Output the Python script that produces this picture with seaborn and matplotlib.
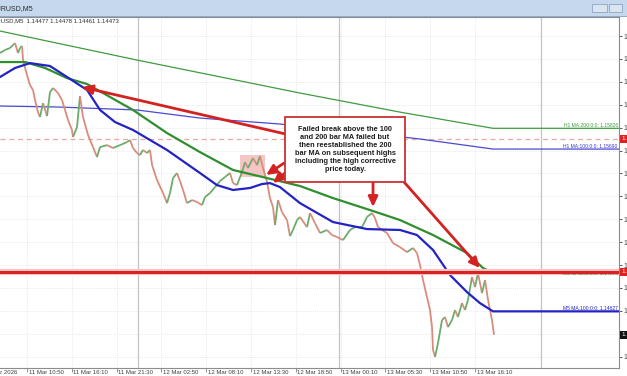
import matplotlib
matplotlib.use("Agg")
import matplotlib.pyplot as plt
import matplotlib.transforms as mtransforms
from matplotlib.collections import LineCollection
from matplotlib.patches import Rectangle
import seaborn as sns

sns.set_style("white")
plt.rcParams["font.family"] = ["Liberation Sans", "DejaVu Sans"]

# ---------------- data (x = hours since 11 Mar 2026 00:00, y = price) ----------------
price_time = [7.63, 8.23, 8.82, 9.18, 9.42, 9.77, 10.01, 10.25, 10.37, 10.84,
              11.20, 11.56, 11.80, 12.15, 12.39, 12.75, 13.23, 13.58, 13.94, 14.54,
              15.01, 15.37, 15.73, 16.20, 16.32, 16.80, 17.15, 17.51, 18.11, 18.70,
              19.18, 19.54, 20.37, 21.08, 21.92, 22.75, 23.11, 23.46, 23.94, 24.30,
              24.65, 25.13, 25.49, 25.73, 26.32, 27.04, 27.51, 27.87, 28.23, 28.70,
              29.06, 29.42, 29.89, 30.49, 31.08, 31.68, 32.04, 32.63, 33.23, 33.82,
              34.42, 35.01, 35.37, 35.84, 36.44, 36.80, 37.15, 37.75, 38.23, 38.58,
              38.94, 39.42, 39.77, 40.13, 40.37, 40.73, 41.20, 41.80, 42.15, 42.51,
              42.99, 43.34, 44.18, 44.54, 45.13, 45.73, 46.56, 47.15, 47.75, 48.46,
              49.30, 49.89, 50.73, 51.32, 51.92, 52.27, 52.63, 53.11, 53.70, 54.42,
              55.25, 56.08, 56.80, 57.27, 57.63, 57.99, 58.46, 58.82, 59.06, 59.18,
              59.42, 59.77, 60.25, 60.61, 60.96, 61.44, 61.80, 62.15, 62.63, 62.99,
              63.34, 63.82, 64.18, 64.53, 65.01, 65.37, 65.73, 66.20, 66.44]
price_close = [1.16319, 1.16339, 1.16352, 1.16371, 1.16384, 1.16319, 1.16352, 1.16365, 1.16273, 1.16175,
               1.16109, 1.16077, 1.16011, 1.15932, 1.15900, 1.15991, 1.15906, 1.16063, 1.16090, 1.16057,
               1.16011, 1.15946, 1.15880, 1.15815, 1.15769, 1.15834, 1.16037, 1.15900, 1.15782, 1.15703,
               1.15638, 1.15703, 1.15716, 1.15697, 1.15716, 1.15736, 1.15749, 1.15697, 1.15664, 1.15651,
               1.15684, 1.15664, 1.15684, 1.15585, 1.15487, 1.15402, 1.15336, 1.15402, 1.15500, 1.15533,
               1.15480, 1.15422, 1.15336, 1.15356, 1.15343, 1.15323, 1.15376, 1.15402, 1.15441, 1.15480,
               1.15507, 1.15533, 1.15467, 1.15454, 1.15539, 1.15605, 1.15566, 1.15631, 1.15585, 1.15644,
               1.15566, 1.15474, 1.15369, 1.15310, 1.15192, 1.15356, 1.15277, 1.15225, 1.15120, 1.15160,
               1.15225, 1.15245, 1.15179, 1.15271, 1.15205, 1.15140, 1.15160, 1.15127, 1.15114, 1.15094,
               1.15160, 1.15179, 1.15179, 1.15245, 1.15271, 1.15238, 1.15179, 1.15160, 1.15140, 1.15074,
               1.15048, 1.15015, 1.15042, 1.15009, 1.14930, 1.14832, 1.14721, 1.14636, 1.14524, 1.14374,
               1.14328, 1.14419, 1.14570, 1.14590, 1.14524, 1.14570, 1.14636, 1.14590, 1.14681, 1.14636,
               1.14701, 1.14852, 1.14786, 1.14878, 1.14747, 1.14832, 1.14701, 1.14570, 1.14473]

m5_ma200_time = [7.63, 10.61, 12.99, 15.61, 17.99, 20.73, 23.46, 27.51, 31.44, 35.37,
                 39.42, 43.34, 47.27, 52.04, 55.25, 59.18, 63.23, 65.13, 66.32, 81.32]
m5_ma200_val = [1.16260, 1.16260, 1.16221, 1.16155, 1.16116, 1.16031, 1.15946, 1.15795, 1.15670, 1.15553,
                1.15500, 1.15448, 1.15369, 1.15284, 1.15225, 1.15127, 1.15009, 1.14911, 1.14878, 1.14878]

m5_ma100_time = [7.63, 9.42, 11.20, 13.58, 15.61, 17.99, 19.54, 21.32, 23.46, 27.51, 31.44, 33.46,
                 35.37, 37.39, 38.82, 39.77, 40.96, 43.34, 47.27, 51.32, 55.25, 57.27, 59.18,
                 61.20, 63.23, 64.77, 66.32, 81.32]
m5_ma100_val = [1.16162, 1.16221, 1.16253, 1.16234, 1.16162, 1.16077, 1.15946, 1.15867, 1.15815, 1.15684,
                1.15533, 1.15454, 1.15422, 1.15435, 1.15461, 1.15467, 1.15441, 1.15336, 1.15212, 1.15166,
                1.15160, 1.15127, 1.15029, 1.14865, 1.14753, 1.14681, 1.14627, 1.14627]

h1_ma200_time = [7.63, 23.94, 43.34, 55.25, 66.32, 81.32]
h1_ma200_val = [1.16463, 1.16273, 1.16057, 1.15932, 1.15826, 1.15826]

h1_ma100_time = [7.63, 14.77, 23.94, 31.44, 40.96, 49.30, 57.63, 66.32, 81.32]
h1_ma100_val = [1.15972, 1.15965, 1.15946, 1.15893, 1.15854, 1.15808, 1.15756, 1.15690, 1.15690]

support_level = 1.14885
dashed_level = 1.15756
current_price = 1.14473
highlight_time = [36.20, 39.18]
highlight_price = [1.15507, 1.15651]

day_separators = [24, 48, 72]
date_tick_time = [5.5, 10.833, 16.167, 21.5, 26.833, 32.167, 37.5, 42.833, 48.167, 53.5, 58.833, 64.167]
date_tick_labels = ["11 Mar 2026", "11 Mar 10:50", "11 Mar 16:10", "11 Mar 21:30", "12 Mar 02:50",
                    "12 Mar 08:10", "12 Mar 13:30", "12 Mar 18:50", "13 Mar 00:10", "13 Mar 05:30",
                    "13 Mar 10:50", "13 Mar 16:10"]
price_ticks = [1.14330, 1.14480, 1.14630, 1.14780, 1.14930, 1.15080, 1.15230, 1.15380,
               1.15530, 1.15680, 1.15830, 1.15980, 1.16130, 1.16280, 1.16430]

note_text = ("Failed break above the 100\nand 200 bar MA failed but\nthen reestablished the 200\n"
             "bar MA on subsequent highs\nincluding the high corrective\nprice today.")
# arrows: (tail_time, tail_price, tip_time, tip_price)
arrow_list = [(42.15, 1.15782, 17.39, 1.16096),
              (41.44, 1.15598, 39.30, 1.15520),
              (41.68, 1.15539, 40.13, 1.15467),
              (52.04, 1.15474, 52.04, 1.15310),
              (55.73, 1.15474, 64.77, 1.14911)]

# ---------------- figure ----------------
W, H = 627, 376
fig = plt.figure(figsize=(W / 100, H / 100), dpi=100)
ax = fig.add_axes([0, 8 / H, 619 / W, 351 / H])
ax.set_xlim(7.63, 81.32)
ax.set_ylim(1.14256, 1.16555)

# grid
for t in date_tick_time:
    ax.axvline(t, color="#e2e2e2", lw=0.6, ls=(0, (1, 1.5)), zorder=0)
for p in price_ticks:
    ax.axhline(p, color="#e2e2e2", lw=0.6, ls=(0, (1, 1.5)), zorder=0)
for d in day_separators:
    ax.axvline(d, color="#c4c4c4", lw=0.9, zorder=0.5)

# highlight box
ax.add_patch(Rectangle((highlight_time[0], highlight_price[0]),
                       highlight_time[1] - highlight_time[0],
                       highlight_price[1] - highlight_price[0],
                       facecolor="#f5bcbc", edgecolor="none", alpha=0.85, zorder=1))

# levels
ax.axhline(dashed_level, color="#e9a9a0", lw=0.9, ls=(0, (4, 3)), zorder=1)

# H1 MAs (thin)
sns.lineplot(x=h1_ma200_time, y=h1_ma200_val, ax=ax, color="#3f9b3f", lw=0.9, zorder=2)
sns.lineplot(x=h1_ma100_time, y=h1_ma100_val, ax=ax, color="#4a4ad0", lw=0.9, zorder=2)

# price (candle-like segments)
segs, cols = [], []
for i in range(1, len(price_time)):
    segs.append([(price_time[i - 1], price_close[i - 1]), (price_time[i], price_close[i])])
    cols.append("#6aac6a" if price_close[i] >= price_close[i - 1] else "#d98c7c")
ax.add_collection(LineCollection(segs, colors=cols, linewidths=1.3, zorder=3))

# M5 MAs (thick)
sns.lineplot(x=m5_ma200_time, y=m5_ma200_val, ax=ax, color="#2f8f2f", lw=1.6, zorder=4)
sns.lineplot(x=m5_ma100_time, y=m5_ma100_val, ax=ax, color="#2323c4", lw=1.6, zorder=4)

# red horizontal line
ax.axhline(support_level, color="#f6c4c4", lw=4.5, zorder=4.5)
ax.axhline(support_level, color="#d62424", lw=2.2, zorder=4.6)

# MA labels
bt = mtransforms.blended_transform_factory(ax.transAxes, ax.transData)
ax.text(0.998, h1_ma200_val[-1], "H1 MA:200:0:0: 1.15826", transform=bt, ha="right", va="bottom",
        fontsize=3.6, color="#3f9b3f", zorder=6)
ax.text(0.998, h1_ma100_val[-1], "H1 MA:100:0:0: 1.15690", transform=bt, ha="right", va="bottom",
        fontsize=3.6, color="#3a3ac8", zorder=6)
ax.text(0.998, m5_ma200_val[-1], "M5 MA:200:0:0: 1.14878", transform=bt, ha="right", va="center",
        fontsize=3.6, color="#2f8f2f", zorder=4.55)
ax.text(0.998, m5_ma100_val[-1], "M5 MA:100:0:0: 1.14627", transform=bt, ha="right", va="bottom",
        fontsize=3.6, color="#2323c4", zorder=6)

# arrows
for (x0, y0, x1, y1) in arrow_list:
    ax.annotate("", xy=(x1, y1), xytext=(x0, y0),
                arrowprops=dict(arrowstyle="-|>,head_length=0.6,head_width=0.28",
                                color="#d42222", lw=2.0, shrinkA=0, shrinkB=0, mutation_scale=10),
                zorder=7)

# note box
ax.add_patch(Rectangle((285 / 619, (368 - 182) / 351), 120 / 619, 65 / 351, transform=ax.transAxes,
                       facecolor="white", edgecolor="#c83232", lw=1.3, zorder=8))
ax.text(345 / 619, (368 - 149.5) / 351, note_text, transform=ax.transAxes, ha="center", va="center",
        fontsize=5.3, fontweight="bold", color="#1e1e1e", linespacing=1.22, zorder=9)

# info text inside chart
ax.text(-12 / 619, (368 - 21) / 351, "EURUSD,M5  1.14477 1.14478 1.14461 1.14473", transform=ax.transAxes,
        ha="left", va="center", fontsize=4.3, color="#303030", clip_on=False, zorder=9)

# axes styling
ax.spines["left"].set_visible(False)
for s in ["right", "bottom", "top"]:
    ax.spines[s].set_color("#8c8c8c")
    ax.spines[s].set_linewidth(0.8)
ax.set_xlabel("")
ax.set_ylabel("")
ax.yaxis.tick_right()
ax.set_yticks(price_ticks)
ax.set_yticklabels(["" if abs(p - current_price) < 0.0005 else f"{p:.5f}" for p in price_ticks])
ax.tick_params(axis="y", right=True, length=2, width=0.6, pad=1, labelsize=5, colors="#404040")
ax.set_xticks([t for t in date_tick_time if t > 7.63])
ax.set_xticklabels([])
ax.tick_params(axis="x", bottom=True, length=3, width=0.6, colors="#808080")
xt = mtransforms.blended_transform_factory(ax.transData, ax.transAxes)
for t, lab in zip(date_tick_time, date_tick_labels):
    ax.text(t + 0.2, -4.2 / 351, lab, transform=xt, ha="left", va="center", fontsize=4.3,
            color="#404040", clip_on=False)

# right-axis price boxes
for val, fc in [(dashed_level, "#e02020"), (support_level, "#e02020"), (current_price, "#111111")]:
    ax.text(1.004, val, f"{val:.5f}", transform=bt, ha="left", va="center", fontsize=4.5, color="white",
            clip_on=False, zorder=10,
            bbox=dict(boxstyle="square,pad=0.25", facecolor=fc, edgecolor="none"))

# title bar
fig.patches.append(Rectangle((0, 1 - 16 / H), 1, 16 / H, transform=fig.transFigure,
                             facecolor="#c6d8ee", edgecolor="none", zorder=0))
fig.patches.append(Rectangle((0, 1 - 17 / H), 1, 1.2 / H, transform=fig.transFigure,
                             facecolor="#8fa9c9", edgecolor="none", zorder=0))
fig.text(-9 / W, 1 - 8.5 / H, "EURUSD,M5", fontsize=5, color="#2a2a2a", va="center", ha="left")
fig.patches.append(Rectangle((592 / W, 1 - 12 / H), 15 / W, 8 / H, transform=fig.transFigure,
                             facecolor="#dbe5f2", edgecolor="#8ea6c6", lw=0.6))
fig.patches.append(Rectangle((609 / W, 1 - 12 / H), 13 / W, 8 / H, transform=fig.transFigure,
                             facecolor="#dbe5f2", edgecolor="#8ea6c6", lw=0.6))

fig.savefig("out.png", dpi=100)
